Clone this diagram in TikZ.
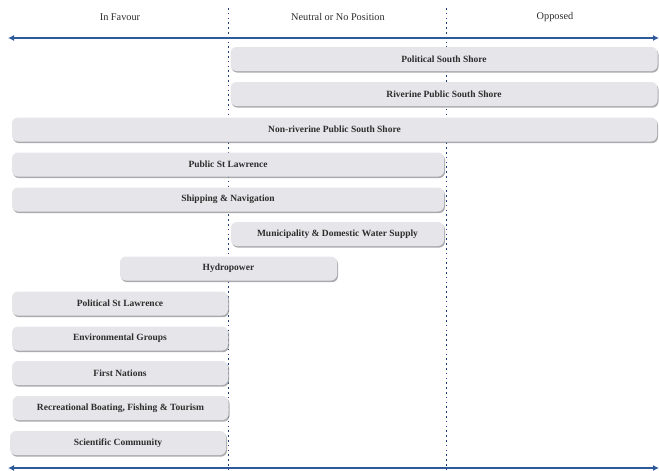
\documentclass[tikz,border=0pt]{standalone}
\usepackage{fontspec}
\setmainfont{Liberation Serif}
\usetikzlibrary{arrows.meta,shadows}
\definecolor{barfill}{RGB}{230,230,234}
\definecolor{barshadow}{RGB}{150,150,155}
\definecolor{axisblue}{RGB}{46,90,156}
\definecolor{dotblue}{RGB}{30,60,130}
\definecolor{txt}{RGB}{45,45,45}
\tikzset{
  bar/.style={draw=none, fill=barfill, rounded corners=6pt, minimum height=24pt,
    inner sep=0pt, text=txt, font=\bfseries\fontsize{9.5}{11}\selectfont,
    drop shadow={shadow xshift=1pt, shadow yshift=-1.6pt, fill=barshadow, opacity=0.8}},
  header/.style={text=txt, font=\fontsize{10.3}{12}\selectfont},
  axis/.style={draw=axisblue, line width=1.3pt, -{Latex[length=6pt,width=6pt]}},
  divider/.style={draw=dotblue, line width=1.1pt, dash pattern=on 1.6pt off 3.2pt}
}
\begin{document}
\begin{tikzpicture}[x=1pt,y=-1pt]
\useasboundingbox (0,0) rectangle (659,471);

% column headings
\node[header] (fav) at (120,17) {In Favour};
\node[header] (neu) at (338,17) {Neutral or No Position};
\node[header] (opp) at (555,17) {Opposed};

% column dividers
\coordinate (d1t) at (228.5,8);
\coordinate (d1b) at (228.5,471);
\coordinate (d2t) at (446.5,8);
\coordinate (d2b) at (446.5,471);
\draw[divider] (d1t) -- (d1b);
\draw[divider] (d2t) -- (d2b);

% stakeholder positions
\node[bar, minimum width=427pt] (pss)   at (444,59)    {Political South Shore};
\node[bar, minimum width=427pt] (rpss)  at (444,94)    {Riverine Public South Shore};
\node[bar, minimum width=645pt] (nrpss) at (334.5,129.5) {Non-riverine Public South Shore};
\node[bar, minimum width=432pt] (psl)   at (228,164.5) {Public St Lawrence};
\node[bar, minimum width=432pt] (ship)  at (228,199.5) {Shipping \& Navigation};
\node[bar, minimum width=213pt] (muni)  at (337.5,234) {Municipality \& Domestic Water Supply};
\node[bar, minimum width=217pt] (hydro) at (228.5,268.5) {Hydropower};
\node[bar, minimum width=216pt] (polsl) at (120,303.5) {Political St Lawrence};
\node[bar, minimum width=216pt] (env)   at (120,338.5) {Environmental Groups};
\node[bar, minimum width=216pt] (fn)    at (120,373) {First Nations};
\node[bar, minimum width=216pt] (rec)   at (120.5,408) {Recreational Boating, Fishing \& Tourism};
\node[bar, minimum width=216pt] (sci)   at (118,443) {Scientific Community};

% position axes
\coordinate (topmid) at (300,38);
\coordinate (topl) at (8,38);
\coordinate (topr) at (659,38);
\draw[axis] (topmid) -- (topl);
\draw[axis] (topmid) -- (topr);
\coordinate (botmid) at (300,468);
\coordinate (botl) at (8,468);
\coordinate (botr) at (659,468);
\draw[axis] (botmid) -- (botl);
\draw[axis] (botmid) -- (botr);
\end{tikzpicture}
\end{document}
